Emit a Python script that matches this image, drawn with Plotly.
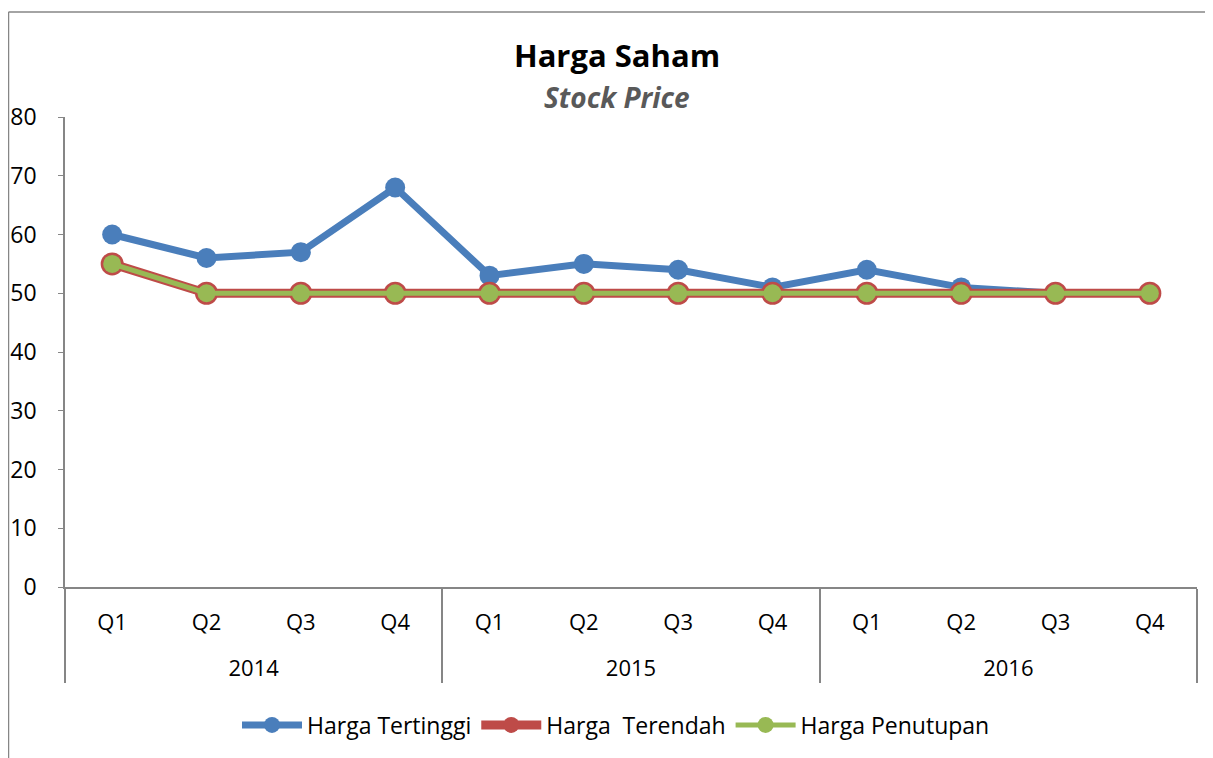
import plotly.graph_objects as go

years = ["2014"] * 4 + ["2015"] * 4 + ["2016"] * 4
quarters = ["Q1", "Q2", "Q3", "Q4"] * 3
harga_tertinggi = [60, 56, 57, 68, 53, 55, 54, 51, 54, 51, 50, 50]
harga_terendah = [55, 50, 50, 50, 50, 50, 50, 50, 50, 50, 50, 50]
harga_penutupan = [55, 50, 50, 50, 50, 50, 50, 50, 50, 50, 50, 50]
y_ticks = [0, 10, 20, 30, 40, 50, 60, 70, 80]

FONT = "Open Sans"
OFF = 8                      # page body margin offset
W, H = 1213 - OFF, 758 - OFF
# target screen positions of the plot area: x 65..1197, y 117..587
L, R, T, B = 65 - OFF, W - (1197 - OFF), 117 - OFF, H - (587 - OFF)
PW, PH = W - L - R, H - T - B

def px_x(sx):
    return (sx - OFF - L) / PW

def px_y(sy):
    return (H - B - (sy - OFF)) / PH

year_labels = ["\u00a0<br>" + y for y in years]
x = [year_labels, quarters]

fig = go.Figure()
fig.add_trace(go.Scatter(x=x, y=harga_tertinggi, name="Harga Tertinggi", mode="lines+markers",
                         line=dict(color="#4A7EBB", width=7),
                         marker=dict(color="#4A7EBB", size=20)))
fig.add_trace(go.Scatter(x=x, y=harga_terendah, name="Harga  Terendah", mode="lines+markers",
                         line=dict(color="#BE4B48", width=9),
                         marker=dict(color="#BE4B48", size=23)))
fig.add_trace(go.Scatter(x=x, y=harga_penutupan, name="Harga Penutupan", mode="lines+markers",
                         line=dict(color="#98B954", width=5),
                         marker=dict(color="#98B954", size=18)))

fig.update_layout(
    width=W, height=H,
    margin=dict(l=L, r=R, t=T, b=B, autoexpand=False),
    paper_bgcolor="white", plot_bgcolor="white",
    font=dict(family=FONT, size=22, color="black"),
    title=dict(text="<b>Harga Saham</b>", x=(617 - OFF) / W, xanchor="center",
               xref="container", yref="container", y=1 - (56 - OFF) / H, yanchor="middle",
               font=dict(family=FONT, size=31, color="black")),
    showlegend=True,
    legend=dict(orientation="h", x=px_x(616), xanchor="center", y=px_y(725), yanchor="middle",
                font=dict(family=FONT, size=23), traceorder="normal", itemwidth=60),
    xaxis=dict(type="multicategory", range=[-0.5, 11.5], automargin=False,
               showline=True, linecolor="#868686", linewidth=1.5,
               showgrid=False, showdividers=True, dividercolor="#868686", dividerwidth=1.5,
               ticks="", ticklabelstandoff=15,
               tickfont=dict(family=FONT, size=22)),
    yaxis=dict(range=[0, 80], tickvals=y_ticks, automargin=False,
               showline=True, linecolor="#868686", linewidth=1.5,
               showgrid=False, zeroline=False, ticks="outside", ticklen=5, tickcolor="#868686",
               ticklabelstandoff=17, tickfont=dict(family=FONT, size=23)),
    annotations=[dict(text="<b><i>Stock Price</i></b>", xref="paper", yref="paper",
                      x=px_x(617), y=px_y(97), xanchor="center", yanchor="middle",
                      showarrow=False, font=dict(family=FONT, size=28, color="#595959"))],
)

# outer chart frame (left and top edges)
fig.add_shape(type="line", xref="paper", yref="paper",
              x0=px_x(8.5), x1=px_x(8.5), y0=px_y(760), y1=px_y(12),
              line=dict(color="#868686", width=1.5))
fig.add_shape(type="line", xref="paper", yref="paper",
              x0=px_x(8.5), x1=px_x(1215), y0=px_y(12), y1=px_y(12),
              line=dict(color="#868686", width=1.5))

fig.write_html("out.html")
